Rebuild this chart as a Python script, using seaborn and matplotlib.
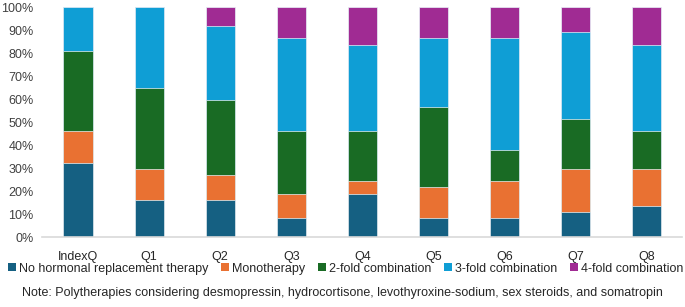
import numpy as np
import pandas as pd
import seaborn as sns
import matplotlib.pyplot as plt
from matplotlib.patches import Patch
from matplotlib.ticker import PercentFormatter

categories = ['IndexQ', 'Q1', 'Q2', 'Q3', 'Q4', 'Q5', 'Q6', 'Q7', 'Q8']
series = ['No hormonal replacement therapy', 'Monotherapy', '2-fold combination',
          '3-fold combination', '4-fold combination']

# shares in percent
no_hrt   = [32.4, 16.2, 16.2,  8.1, 18.9,  8.1,  8.1, 10.8, 13.5]
mono     = [13.5, 13.5, 10.8, 10.8,  5.4, 13.5, 16.2, 18.9, 16.2]
fold_2   = [35.1, 35.1, 32.4, 27.0, 21.6, 35.1, 13.5, 21.6, 16.2]
fold_3   = [18.9, 35.1, 32.4, 40.5, 37.8, 29.7, 48.6, 37.8, 37.8]
fold_4   = [ 0.0,  0.0,  8.1, 13.5, 16.2, 13.5, 13.5, 10.8, 16.2]

colors = ['#156082', '#E97132', '#196B24', '#0F9ED5', '#A02B93']

df = pd.DataFrame({'Q': categories, series[0]: no_hrt, series[1]: mono,
                   series[2]: fold_2, series[3]: fold_3, series[4]: fold_4})
cum = df[series].cumsum(axis=1)

sns.set_style('white')
plt.rcParams['font.family'] = ['Liberation Sans', 'DejaVu Sans']

fig = plt.figure(figsize=(6.85, 3.07), dpi=100)
ax = fig.add_axes([0.062, 0.228, 0.934, 0.749])

# stacked bars: draw cumulative totals from top segment down
for s, c in reversed(list(zip(series, colors))):
    sns.barplot(x=df['Q'], y=cum[s], color=c, width=0.41, ax=ax,
                saturation=1, linewidth=0.5, edgecolor='#e8f2f8')

ax.set_ylim(0, 100)
ax.set_xlim(-0.5, len(categories) - 0.5)
ax.set_yticks(np.arange(0, 101, 10))
ax.yaxis.set_major_formatter(PercentFormatter(decimals=0))
ax.set_xlabel('')
ax.set_ylabel('')
for sp in ['top', 'right', 'left']:
    ax.spines[sp].set_visible(False)
ax.spines['bottom'].set_color('#d9d9d9')
ax.spines['bottom'].set_linewidth(1.2)
ax.tick_params(axis='y', labelsize=9, colors='#404040', length=0, pad=6.5)
ax.tick_params(axis='x', labelsize=9, colors='#262626', length=0, pad=10)

handles = [Patch(facecolor=c, edgecolor='none') for c in colors]
fig.legend(handles, series, loc='center', bbox_to_anchor=(0.505, 0.125), ncol=5,
           frameon=False, fontsize=9, handlelength=0.6, handleheight=0.6,
           handletextpad=0.3, columnspacing=1.0, labelcolor='#262626')

fig.text(0.5, 0.045,
         'Note: Polytherapies considering desmopressin, hydrocortisone, '
         'levothyroxine-sodium, sex steroids, and somatropin',
         ha='center', va='center', fontsize=9, color='#262626')

fig.savefig('out.png', dpi=100)
